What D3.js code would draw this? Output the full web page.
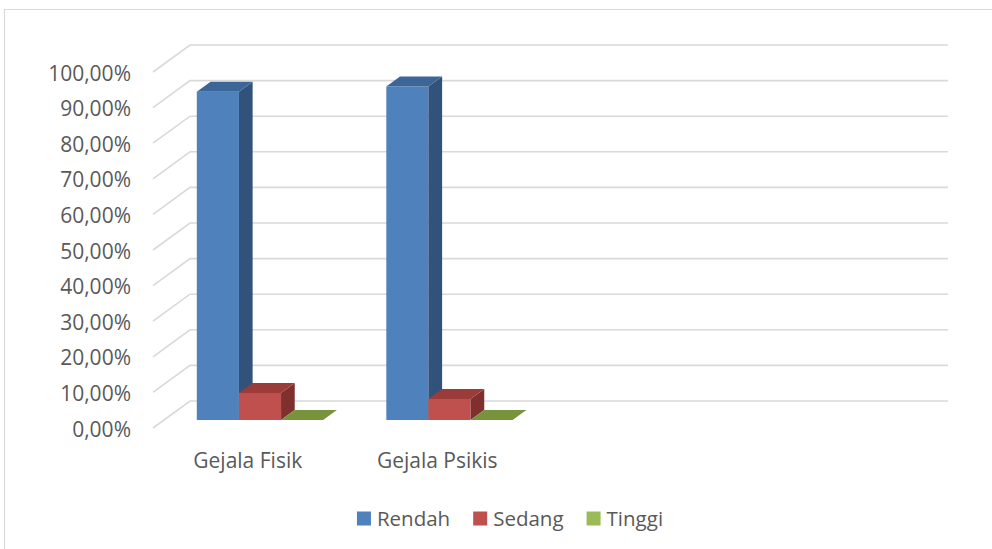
<!DOCTYPE html>
<html>
<head>
<meta charset="utf-8">
<script src="https://cdn.jsdelivr.net/npm/d3@7"></script>
<style>
  html, body { margin: 0; padding: 0; background: #ffffff; }
  svg { display: block; }
  text { font-family: "Open Sans", "Noto Sans", sans-serif; fill: #595959; }
</style>
</head>
<body>
<svg id="chart" width="992" height="549"></svg>
<script>
// Category slots (the sheet range has two blank rows after the data)
const categories = ["Gejala Fisik", "Gejala Psikis", "", ""];
const seriesNames = ["Rendah", "Sedang", "Tinggi"];
const rendah = [0.922, 0.937, null, null];
const sedang = [0.076, 0.059, null, null];
const tinggi = [0.0, 0.0, null, null];
const yTicks = [0, 0.1, 0.2, 0.3, 0.4, 0.5, 0.6, 0.7, 0.8, 0.9, 1.0];

const seriesValues = [rendah, sedang, tinggi];
const palette = {
  Rendah: { front: "#4f81bd", side: "#30527b", top: "#3c6698", legend: "#4f81bd" },
  Sedang: { front: "#c0504d", side: "#7f302e", top: "#9c3c3a", legend: "#c0504d" },
  Tinggi: { front: "#77933c", side: "#5f7730", top: "#77933c", legend: "#9bbb59" }
};

const svg = d3.select("#chart");

// Chart frame
svg.append("path")
  .attr("d", "M4.5,549 L4.5,9.5 L992,9.5")
  .attr("fill", "none")
  .attr("stroke", "#d9d9d9")
  .attr("stroke-width", 1.2);

// 3-D projection: x/y in the front plane, z = depth fraction (0 front, 1 back wall)
const DX = 37, DY = -27;
const x = d3.scaleBand().domain(categories.map((c, i) => i)).range([153, 911]).padding(0);
const y = d3.scaleLinear().domain([0, 1]).range([428, 72]);
const inner = d3.scaleBand().domain(seriesNames).range([0, x.bandwidth()])
  .paddingInner(0).paddingOuter(0.75).align(0.52);
const proj = (px, v, z) => [px + z * DX, y(v) + z * DY];

// Gridlines: diagonal on the side wall, horizontal on the back wall
const grid = svg.append("g").attr("fill", "none").attr("stroke", "#d9d9d9").attr("stroke-width", 1.6);
yTicks.forEach(t => {
  const a = proj(x.range()[0], t, 0);
  const b = proj(x.range()[0], t, 1);
  const c = proj(x.range()[1], t, 1);
  grid.append("path").attr("d", d3.line()([a, b, c]));
});

// Y-axis labels
const fmt = v => (v * 100).toFixed(2).replace(".", ",") + "%";
svg.append("g").selectAll("text").data(yTicks).join("text")
  .attr("x", 131)
  .attr("y", d => y(d) + 8.5)
  .attr("text-anchor", "end")
  .attr("font-size", 21)
  .text(fmt);

// Bars
const Z0 = 8 / 27, Z1 = 18 / 27;
const bars = svg.append("g");
categories.forEach((cat, ci) => {
  seriesNames.forEach((s, si) => {
    const v = seriesValues[si][ci];
    if (v == null) return;
    const x0 = x(ci) + inner(s);
    const x1 = x0 + inner.bandwidth();
    const col = palette[s];
    const poly = pts => "M" + pts.map(p => p.join(",")).join("L") + "Z";
    const fbl = proj(x0, 0, Z0), fbr = proj(x1, 0, Z0);
    const ftl = proj(x0, v, Z0), ftr = proj(x1, v, Z0);
    const btl = proj(x0, v, Z1), btr = proj(x1, v, Z1), bbr = proj(x1, 0, Z1);
    const g = bars.append("g");
    if (v > 0) {
      g.append("path").attr("d", poly([fbl, fbr, ftr, ftl])).attr("fill", col.front);
      g.append("path").attr("d", poly([fbr, bbr, btr, ftr])).attr("fill", col.side);
    }
    g.append("path").attr("d", poly([ftl, ftr, btr, btl])).attr("fill", col.top);
  });
});

// Category labels
svg.append("g").selectAll("text").data(categories.map((c, i) => ({ c, i })).filter(d => d.c))
  .join("text")
  .attr("x", d => x(d.i) + x.bandwidth() / 2)
  .attr("y", 468)
  .attr("text-anchor", "middle")
  .attr("font-size", 21)
  .text(d => d.c);

// Legend
const legend = svg.append("g");
let lx = 0;
seriesNames.forEach(s => {
  const item = legend.append("g").attr("transform", `translate(${lx},0)`);
  item.append("rect").attr("x", 0).attr("y", -14).attr("width", 14).attr("height", 14)
    .attr("fill", palette[s].legend);
  const t = item.append("text").attr("x", 20).attr("y", 0).attr("font-size", 20.5).text(s);
  const w = t.node().getComputedTextLength();
  lx += 20 + w + 23;
});
const legendWidth = lx - 23;
legend.attr("transform", `translate(${510 - legendWidth / 2},525.5)`);
</script>
</body>
</html>
